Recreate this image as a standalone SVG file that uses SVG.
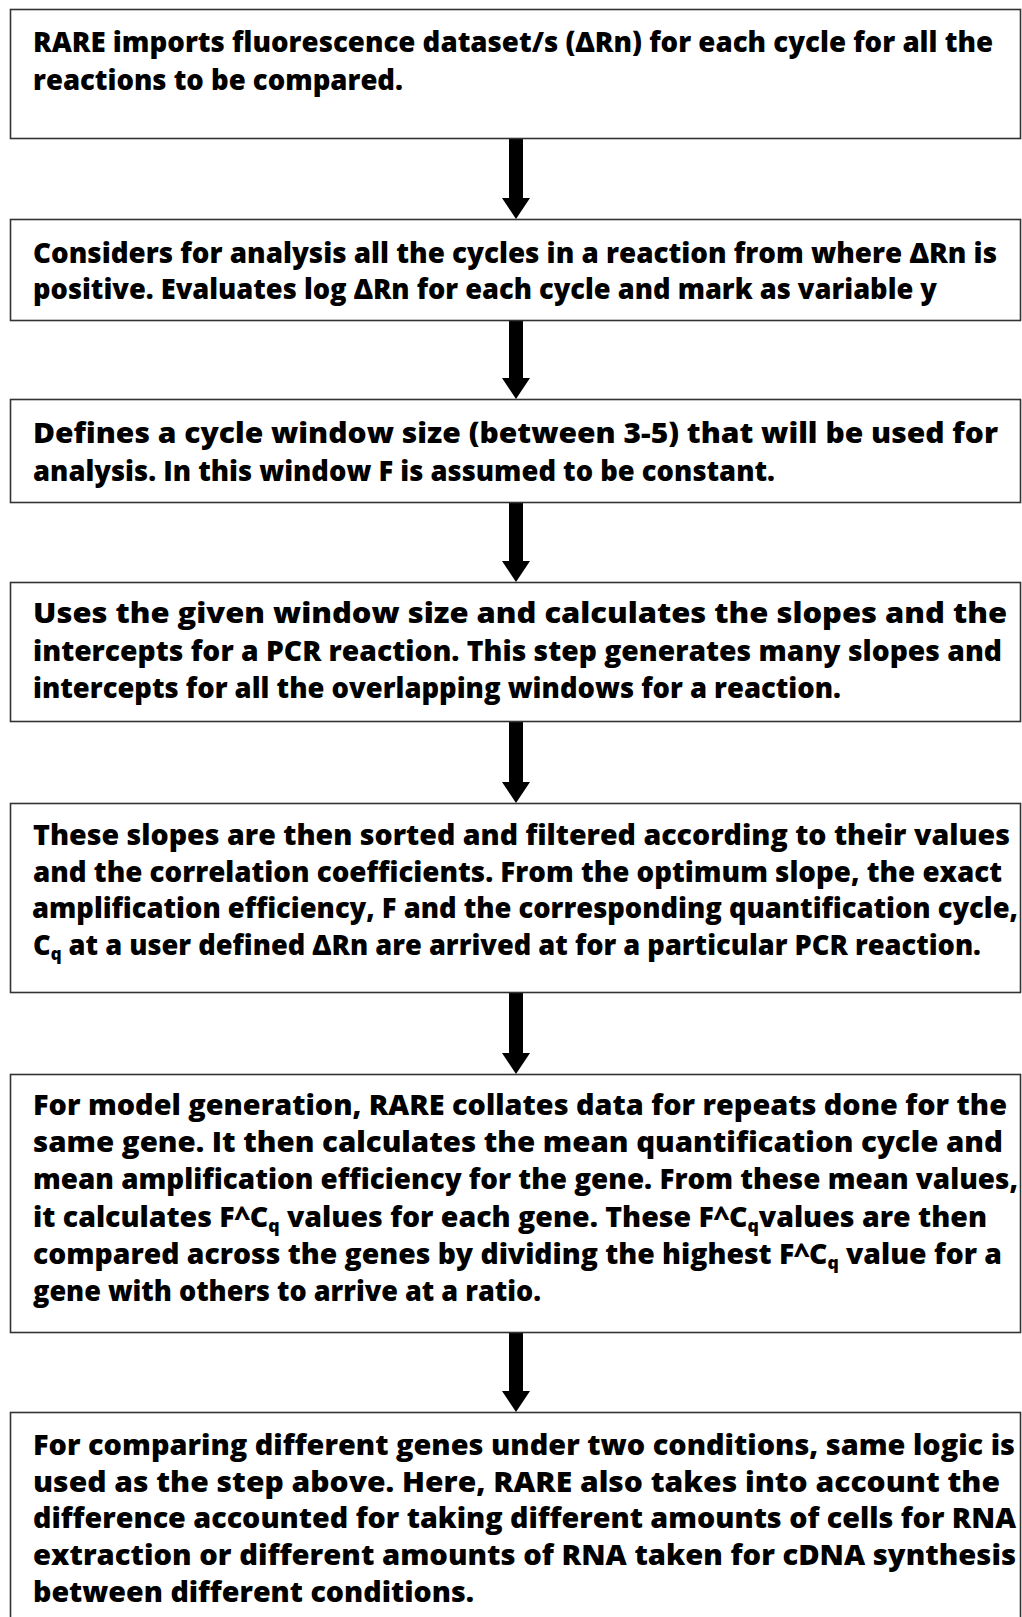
<svg xmlns="http://www.w3.org/2000/svg" width="1022" height="1617" viewBox="0 0 1022 1617">
<style>
.box{fill:#fff;stroke:#333;stroke-width:1.6}
.t{font-family:"Open Sans","Noto Sans","Liberation Sans",sans-serif;font-weight:800;font-size:29px;fill:#000}
.sub{font-size:18px}
.arr{fill:#000;stroke:none}
</style>
<rect x="0" y="0" width="1022" height="1617" fill="#fff"/>
<g id="connectors">
<polygon class="arr" points="509,139 523,139 523,198 530,198 516,219 502,198 509,198"/>
<polygon class="arr" points="509,321 523,321 523,378 530,378 516,399 502,378 509,378"/>
<polygon class="arr" points="509,503 523,503 523,561 530,561 516,582 502,561 509,561"/>
<polygon class="arr" points="509,722 523,722 523,782 530,782 516,803 502,782 509,782"/>
<polygon class="arr" points="509,993 523,993 523,1053 530,1053 516,1074 502,1053 509,1053"/>
<polygon class="arr" points="509,1333 523,1333 523,1391 530,1391 516,1412 502,1391 509,1391"/>
</g>
<g id="node1">
<rect class="box" x="10.5" y="9.5" width="1010" height="129"/>
<text class="t" x="33" y="52" textLength="960" lengthAdjust="spacingAndGlyphs">RARE imports fluorescence dataset/s (ΔRn) for each cycle for all the</text>
<text class="t" x="33" y="90" textLength="370" lengthAdjust="spacingAndGlyphs">reactions to be compared.</text>
</g>
<g id="node2">
<rect class="box" x="10.5" y="219.5" width="1010" height="101"/>
<text class="t" x="33" y="263" textLength="964" lengthAdjust="spacingAndGlyphs">Considers for analysis all the cycles in a reaction from where ΔRn is</text>
<text class="t" x="33" y="299" textLength="904" lengthAdjust="spacingAndGlyphs">positive. Evaluates log ΔRn for each cycle and mark as variable y</text>
</g>
<g id="node3">
<rect class="box" x="10.5" y="399.5" width="1010" height="103"/>
<text class="t" x="33" y="443" textLength="965" lengthAdjust="spacingAndGlyphs">Defines a cycle window size (between 3-5) that will be used for</text>
<text class="t" x="33" y="481" textLength="742" lengthAdjust="spacingAndGlyphs">analysis. In this window F is assumed to be constant.</text>
</g>
<g id="node4">
<rect class="box" x="10.5" y="582.5" width="1010" height="139"/>
<text class="t" x="33" y="623" textLength="974" lengthAdjust="spacingAndGlyphs">Uses the given window size and calculates the slopes and the</text>
<text class="t" x="33" y="661" textLength="969" lengthAdjust="spacingAndGlyphs">intercepts for a PCR reaction. This step generates many slopes and</text>
<text class="t" x="33" y="698" textLength="808" lengthAdjust="spacingAndGlyphs">intercepts for all the overlapping windows for a reaction.</text>
</g>
<g id="node5">
<rect class="box" x="10.5" y="803.5" width="1010" height="189"/>
<text class="t" x="33" y="845" textLength="977" lengthAdjust="spacingAndGlyphs">These slopes are then sorted and filtered according to their values</text>
<text class="t" x="33" y="882" textLength="969" lengthAdjust="spacingAndGlyphs">and the correlation coefficients. From the optimum slope, the exact</text>
<text class="t" x="32" y="918" textLength="986" lengthAdjust="spacingAndGlyphs">amplification efficiency, F and the corresponding quantification cycle,</text>
<text class="t" x="33" y="955" textLength="948" lengthAdjust="spacingAndGlyphs">C<tspan class="sub" dy="5">q</tspan><tspan dy="-5"> at a user defined ΔRn are arrived at for a particular PCR reaction.</tspan></text>
</g>
<g id="node6">
<rect class="box" x="10.5" y="1074.5" width="1010" height="258"/>
<text class="t" x="33" y="1115" textLength="974" lengthAdjust="spacingAndGlyphs">For model generation, RARE collates data for repeats done for the</text>
<text class="t" x="33" y="1152" textLength="970" lengthAdjust="spacingAndGlyphs">same gene. It then calculates the mean quantification cycle and</text>
<text class="t" x="33" y="1189" textLength="985" lengthAdjust="spacingAndGlyphs">mean amplification efficiency for the gene. From these mean values,</text>
<text class="t" x="33" y="1227" textLength="954" lengthAdjust="spacingAndGlyphs">it calculates F^C<tspan class="sub" dy="5">q</tspan><tspan dy="-5"> values for each gene. These F^C</tspan><tspan class="sub" dy="5">q</tspan><tspan dy="-5">values are then</tspan></text>
<text class="t" x="33" y="1264" textLength="969" lengthAdjust="spacingAndGlyphs">compared across the genes by dividing the highest F^C<tspan class="sub" dy="5">q</tspan><tspan dy="-5"> value for a</tspan></text>
<text class="t" x="33" y="1301" textLength="508" lengthAdjust="spacingAndGlyphs">gene with others to arrive at a ratio.</text>
</g>
<g id="node7">
<rect class="box" x="10.5" y="1412.5" width="1010" height="215"/>
<text class="t" x="33" y="1455" textLength="982" lengthAdjust="spacingAndGlyphs">For comparing different genes under two conditions, same logic is</text>
<text class="t" x="33" y="1492" textLength="967" lengthAdjust="spacingAndGlyphs">used as the step above. Here, RARE also  takes into account the</text>
<text class="t" x="33" y="1528" textLength="983" lengthAdjust="spacingAndGlyphs">difference accounted for taking different amounts of cells for RNA</text>
<text class="t" x="33" y="1565" textLength="983" lengthAdjust="spacingAndGlyphs">extraction or different amounts of RNA taken for cDNA synthesis</text>
<text class="t" x="33" y="1602" textLength="441" lengthAdjust="spacingAndGlyphs">between different conditions.</text>
</g>
</svg>
